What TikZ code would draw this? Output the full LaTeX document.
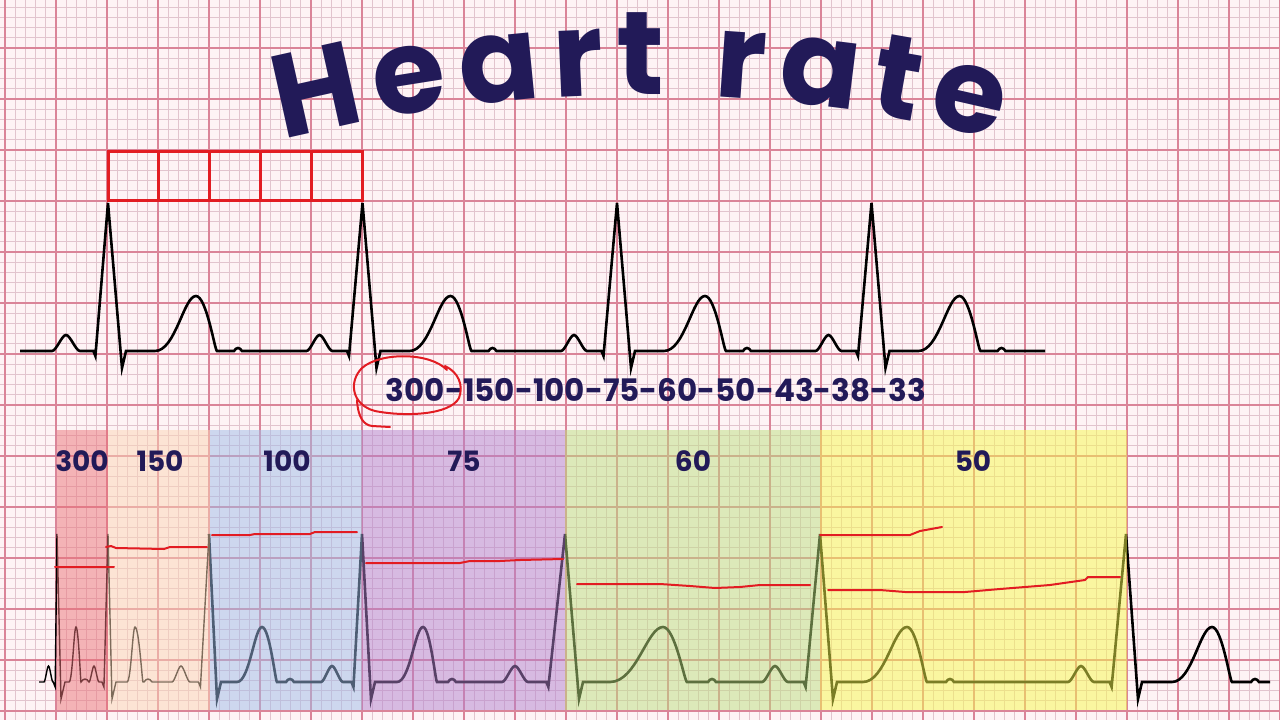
\documentclass[tikz,border=0pt]{standalone}
\usepackage{fontspec}
\setmainfont{Poppins}
\usetikzlibrary{decorations.text}

\definecolor{paper}{RGB}{254,243,245}
\definecolor{gridpink}{RGB}{226,196,206}
\definecolor{gridred}{RGB}{218,132,152}
\definecolor{inkblue}{RGB}{34,26,88}
\definecolor{penred}{RGB}{226,28,34}
\definecolor{zone300}{RGB}{235,116,121}
\definecolor{zone150}{RGB}{251,214,181}
\definecolor{zone100}{RGB}{157,188,233}
\definecolor{zone75}{RGB}{177,130,207}
\definecolor{zone60}{RGB}{187,224,127}
\definecolor{zone50}{RGB}{247,250,77}

% S wave, T wave and U bump after an R peak
\newcommand{\ecgst}[5]{-- ({#1},{\ecgbase+17}) -- ({(#1)+4},\ecgbase) -- ({#2},\ecgbase)
  .. controls ({(#2)+0.5*((#3)-(#2))},\ecgbase) and ({(#3)-0.3*((#3)-(#2))},\ecgtw) .. ({#3},\ecgtw)
  .. controls ({(#3)+0.5*((#4)-(#3))},\ecgtw) and ({(#4)-0.1*((#4)-(#3))},\ecgbase) .. ({#4},\ecgbase)
  -- ({(#5)-4},\ecgbase) .. controls ({(#5)-1.5},{\ecgbase-4}) and ({(#5)+1.5},{\ecgbase-4}) .. ({(#5)+4},\ecgbase)}
% P wave, Q dip and the next R peak
\newcommand{\ecgpq}[3]{-- ({#1},\ecgbase)
  .. controls ({(#1)+0.15*((#2)-(#1))},\ecgbase) and ({(#1)+0.35*((#2)-(#1))},\ecgpw) .. ({0.5*((#1)+(#2))},\ecgpw)
  .. controls ({(#2)-0.35*((#2)-(#1))},\ecgpw) and ({(#2)-0.15*((#2)-(#1))},\ecgbase) .. ({#2},\ecgbase)
  -- ({(#3)-0.45*((#3)-(#2))-2},\ecgbase) -- ({(#3)-0.45*((#3)-(#2))},{\ecgbase+5}) -- ({#3},\ecgtop)}

\tikzset{
  gridminor/.style={gridpink, line width=0.8pt},
  gridmajor/.style={gridred, line width=1.4pt},
  ecgline/.style={black, line width=2.6pt},
  ecgthin/.style={black, line width=1.4pt},
  rbox/.style={penred, line width=3pt},
  pen/.style={penred, line width=2pt, line cap=round, line join=round},
  zone/.style={fill opacity=0.5},
  ratelbl/.style={inkblue, font=\fontsize{28}{30}\selectfont\bfseries},
}

\begin{document}
\begin{tikzpicture}[x=1pt,y=-1pt]
\useasboundingbox (0,0) rectangle (1280,720);
\fill[paper] (0,0) rectangle (1280,720);

% ECG paper
\foreach \i in {0,...,126} \draw[gridminor] ({-5.2+10.2*\i},0) -- ++(0,720);
\foreach \i in {0,...,71} \draw[gridminor] (0,{-3+10.2*\i}) -- ++(1280,0);
\foreach \i in {0,...,25} \draw[gridmajor] ({5+51*\i},0) -- ++(0,720);
\foreach \i in {0,...,14} \draw[gridmajor] (0,{-3+51*\i}) -- ++(1280,0);

% title
\path[decorate, decoration={text along path, text align=fit to path, text color=inkblue,
  text={|\fontsize{118}{118}\selectfont\bfseries|Heart rate}}]
  (283,140) .. controls (520,80) and (760,80) .. (997,140);

% five big boxes between two R waves
\foreach \i in {0,...,4} \draw[rbox] ({108+50.9*\i},151) rectangle ++(50.9,49);

% upper strip
\def\ecgbase{351}\def\ecgtop{203}\def\ecgtw{296}\def\ecgpw{335}
\draw[ecgline] (20,351) \ecgpq{52}{80}{108}
  \ecgst{122}{155}{196}{217}{238} \ecgpq{306.5}{332.5}{362.5}
  \ecgst{376.5}{409.5}{450.5}{471.5}{492.5} \ecgpq{561}{587}{617}
  \ecgst{631}{664}{705}{726}{747} \ecgpq{815.5}{841.5}{871.5}
  \ecgst{885.5}{918.5}{959.5}{980.5}{1001.5} -- (1045,351);

% rate scale
\node[inkblue, font=\fontsize{31}{34}\selectfont\bfseries] (ratescale) at (656,390)
  {300-150-100-75-60-50-43-38-33};
\draw[pen] (447,370) .. controls (430,352) and (380,352) .. (362,368)
  .. controls (348,382) and (352,405) .. (375,411)
  .. controls (405,417) and (450,415) .. (459,398)
  .. controls (464,385) and (458,372) .. (445,366);
\draw[pen] (357,400) .. controls (358,418) and (364,425) .. (372,426) -- (390,427);

% lower strip
\def\ecgbase{682}\def\ecgtop{534}\def\ecgtw{627}\def\ecgpw{666}
\draw[ecgthin] (39,682) \ecgpq{44}{53}{57}
  \ecgst{61}{69}{76}{81}{85} \ecgpq{89}{99}{108}
  \ecgst{112}{127}{135}{143}{148} \ecgpq{172}{190}{209};
\draw[ecgline] (209,534)
  \ecgst{217}{237}{262}{277}{290} \ecgpq{321}{343}{362}
  \ecgst{371}{397}{423}{437}{452} \ecgpq{502}{528}{565}
  \ecgst{579}{610}{663}{687}{712} \ecgpq{762}{788}{820}
  \ecgst{833}{863}{907}{927}{950} \ecgpq{1068}{1094}{1126}
  \ecgst{1138}{1172}{1212}{1232}{1255} -- (1270,682);

% coloured intervals
\foreach \a/\b/\c in {57/108/zone300, 108/210/zone150, 210/362/zone100,
  362/565/zone75, 565/820/zone60, 820/1127/zone50}
  \fill[\c, zone] (\a,430) rectangle (\b,710);
\foreach \x/\t in {82/300, 160/150, 287/100, 464/75, 693/60, 973/50}
  \node[ratelbl] (lbl\t) at (\x,461) {\t};

% hand drawn marks
\draw[pen] (55,567) -- (114,567);
\draw[pen] (106,547) -- (111,546) -- (116,548) -- (164,549) -- (170,547) -- (207,547);
\draw[pen] (212,535) -- (250,535) -- (255,534) -- (310,534) -- (315,532) -- (357,532);
\draw[pen] (366,563) -- (460,563) -- (470,561) -- (500,561) -- (520,560) -- (563,559);
\draw[pen] (577,584) -- (660,584) -- (690,586) -- (715,588) -- (740,587) -- (760,585) -- (810,585);
\draw[pen] (820,535) -- (910,535) -- (920,531) -- (942,527);
\draw[pen] (828,590) -- (880,590) -- (905,592) -- (965,592) -- (1000,589) -- (1050,585)
  -- (1085,580) -- (1088,577) -- (1120,577);
\end{tikzpicture}
\end{document}
